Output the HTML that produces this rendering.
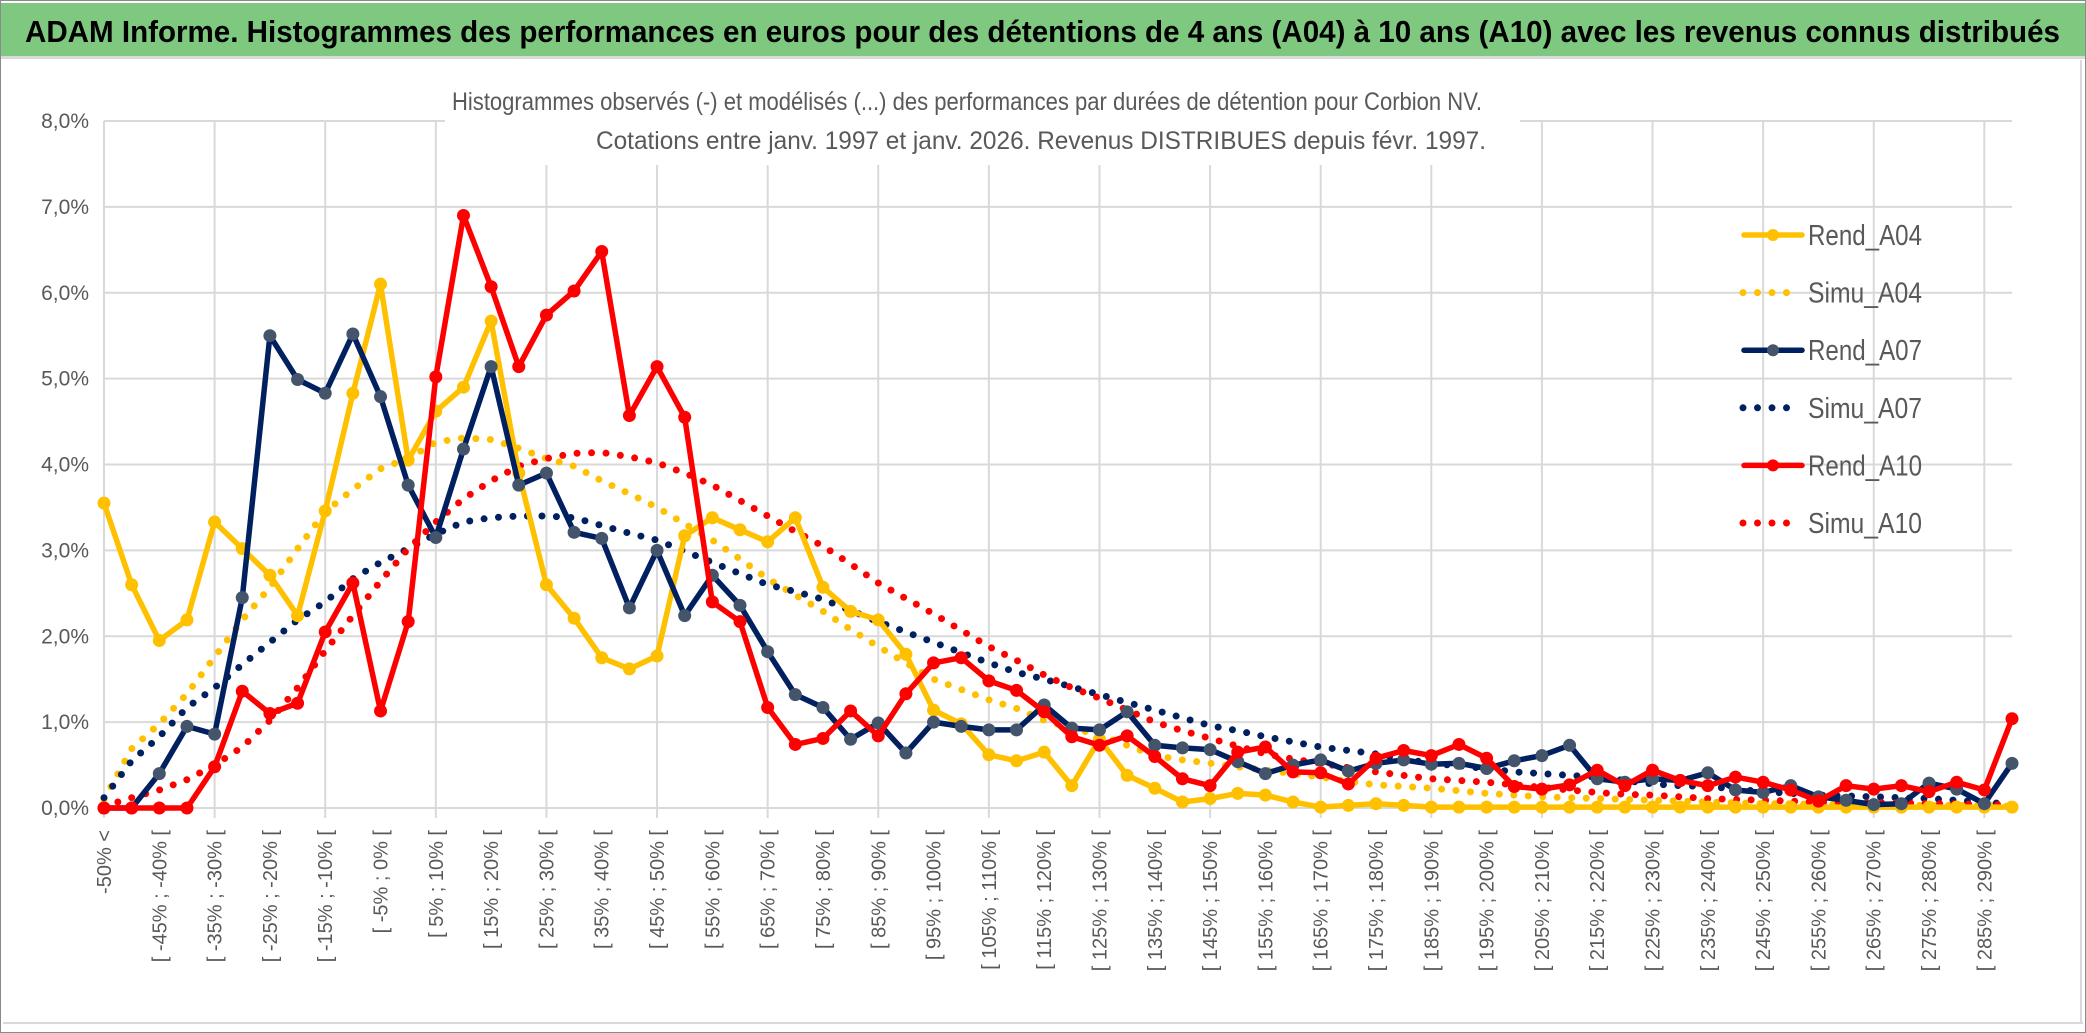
<!DOCTYPE html>
<html><head><meta charset="utf-8">
<style>
html,body{margin:0;padding:0;background:#fff;}
svg{display:block;font-family:"Liberation Sans Narrow","Liberation Sans",sans-serif;}
</style></head>
<body>
<svg id="chart" width="2086" height="1033" viewBox="0 0 2086 1033" xmlns="http://www.w3.org/2000/svg">
  <rect x="0.5" y="0.5" width="2085" height="1032" fill="#fff" stroke="#8a8a8a"/>
  <rect x="1" y="3" width="2084" height="53" fill="#7EC87F"/>
  <rect x="1" y="56" width="2084" height="3" fill="#d9d9d9"/>
  <text x="25" y="42" font-size="31" font-weight="bold" fill="#000" textLength="2035" lengthAdjust="spacingAndGlyphs">ADAM Informe. Histogrammes des performances en euros pour des détentions de 4 ans (A04) à 10 ans (A10) avec les revenus connus distribués</text>
  <rect x="3" y="1022" width="2080" height="2" fill="#d9d9d9"/>
  <rect x="2080" y="60" width="2" height="963" fill="#d9d9d9"/>
  <g id="grid"></g>
  <rect x="445" y="68" width="1075" height="97" fill="#fff"/>
  <text x="967" y="110" font-size="25" fill="#595959" text-anchor="middle" textLength="1030" lengthAdjust="spacingAndGlyphs">Histogrammes observés (-) et modélisés (...) des performances par durées de détention pour Corbion NV.</text>
  <text x="1041" y="149" font-size="25" fill="#595959" text-anchor="middle" textLength="890" lengthAdjust="spacingAndGlyphs">Cotations entre janv. 1997 et janv. 2026. Revenus DISTRIBUES depuis févr. 1997.</text>
  <g id="yaxis"></g>
  <g id="xaxis"></g>
  <g id="series"></g>
  <g id="legend"></g>
</svg>
<script>
const categories = ["-50% <","[ -50% ; -45% [","[ -45% ; -40% [","[ -40% ; -35% [","[ -35% ; -30% [","[ -30% ; -25% [","[ -25% ; -20% [","[ -20% ; -15% [","[ -15% ; -10% [","[ -10% ; -5% [","[ -5% ; 0% [","[ 0% ; 5% [","[ 5% ; 10% [","[ 10% ; 15% [","[ 15% ; 20% [","[ 20% ; 25% [","[ 25% ; 30% [","[ 30% ; 35% [","[ 35% ; 40% [","[ 40% ; 45% [","[ 45% ; 50% [","[ 50% ; 55% [","[ 55% ; 60% [","[ 60% ; 65% [","[ 65% ; 70% [","[ 70% ; 75% [","[ 75% ; 80% [","[ 80% ; 85% [","[ 85% ; 90% [","[ 90% ; 95% [","[ 95% ; 100% [","[ 100% ; 105% [","[ 105% ; 110% [","[ 110% ; 115% [","[ 115% ; 120% [","[ 120% ; 125% [","[ 125% ; 130% [","[ 130% ; 135% [","[ 135% ; 140% [","[ 140% ; 145% [","[ 145% ; 150% [","[ 150% ; 155% [","[ 155% ; 160% [","[ 160% ; 165% [","[ 165% ; 170% [","[ 170% ; 175% [","[ 175% ; 180% [","[ 180% ; 185% [","[ 185% ; 190% [","[ 190% ; 195% [","[ 195% ; 200% [","[ 200% ; 205% [","[ 205% ; 210% [","[ 210% ; 215% [","[ 215% ; 220% [","[ 220% ; 225% [","[ 225% ; 230% [","[ 230% ; 235% [","[ 235% ; 240% [","[ 240% ; 245% [","[ 245% ; 250% [","[ 250% ; 255% [","[ 255% ; 260% [","[ 260% ; 265% [","[ 265% ; 270% [","[ 270% ; 275% [","[ 275% ; 280% [","[ 280% ; 285% [","[ 285% ; 290% [","[ 290% ; 295% ["];
const yTicks = [0,1,2,3,4,5,6,7,8];
const yTickLabels = ["0,0%","1,0%","2,0%","3,0%","4,0%","5,0%","6,0%","7,0%","8,0%"];
const rendA04 = [3.55,2.60,1.95,2.19,3.33,3.02,2.71,2.24,3.46,4.83,6.10,4.05,4.62,4.90,5.67,3.90,2.60,2.21,1.75,1.62,1.77,3.17,3.38,3.24,3.10,3.38,2.57,2.29,2.19,1.79,1.14,0.98,0.62,0.55,0.65,0.26,0.80,0.38,0.23,0.07,0.11,0.17,0.15,0.07,0.01,0.03,0.05,0.03,0.01,0.01,0.01,0.01,0.01,0.01,0.01,0.01,0.01,0.01,0.01,0.01,0.01,0.01,0.01,0.01,0.01,0.01,0.01,0.01,0.01,0.01];
const simuA04 = [0.10,0.69,0.98,1.33,1.76,2.19,2.57,3.02,3.45,3.71,3.95,4.07,4.26,4.31,4.29,4.19,4.07,3.98,3.81,3.66,3.50,3.31,3.12,2.90,2.67,2.48,2.29,2.08,1.88,1.69,1.50,1.38,1.26,1.16,1.02,0.93,0.85,0.73,0.61,0.56,0.52,0.48,0.44,0.40,0.36,0.31,0.27,0.25,0.23,0.20,0.17,0.15,0.13,0.12,0.11,0.10,0.09,0.08,0.07,0.06,0.05,0.05,0.04,0.04,0.04,0.03,0.03,0.03,0.03,0.02];
const rendA07 = [0,0,0.40,0.95,0.86,2.45,5.50,4.99,4.83,5.52,4.79,3.76,3.15,4.18,5.14,3.76,3.90,3.21,3.14,2.33,3.00,2.24,2.71,2.36,1.82,1.32,1.17,0.80,0.99,0.64,1.00,0.95,0.91,0.91,1.20,0.93,0.91,1.12,0.73,0.70,0.68,0.54,0.40,0.50,0.56,0.43,0.52,0.56,0.51,0.52,0.46,0.55,0.61,0.73,0.34,0.30,0.34,0.32,0.41,0.21,0.18,0.26,0.13,0.09,0.04,0.05,0.29,0.22,0.05,0.52];
const simuA07 = [0.12,0.55,0.83,1.17,1.40,1.67,1.93,2.19,2.40,2.67,2.86,3.02,3.19,3.33,3.38,3.40,3.40,3.38,3.29,3.20,3.12,2.99,2.86,2.73,2.60,2.52,2.43,2.30,2.17,2.05,1.93,1.81,1.69,1.58,1.50,1.41,1.32,1.23,1.14,1.05,0.96,0.90,0.83,0.77,0.71,0.67,0.63,0.57,0.52,0.49,0.46,0.42,0.40,0.38,0.36,0.32,0.28,0.26,0.25,0.22,0.19,0.17,0.15,0.14,0.13,0.12,0.11,0.09,0.07,0.04];
const rendA10 = [0,0,0,0,0.48,1.36,1.10,1.22,2.05,2.62,1.13,2.17,5.02,6.90,6.07,5.14,5.74,6.02,6.48,4.57,5.14,4.55,2.40,2.17,1.17,0.74,0.81,1.13,0.84,1.33,1.69,1.75,1.48,1.37,1.12,0.83,0.73,0.84,0.60,0.34,0.26,0.65,0.71,0.42,0.41,0.28,0.58,0.67,0.61,0.74,0.58,0.25,0.22,0.27,0.44,0.26,0.44,0.32,0.26,0.36,0.30,0.21,0.08,0.26,0.22,0.26,0.19,0.30,0.21,1.04];
const simuA10 = [0.02,0.12,0.21,0.33,0.50,0.71,1.02,1.40,1.83,2.24,2.64,3.02,3.33,3.60,3.81,3.98,4.07,4.13,4.14,4.09,4.02,3.90,3.76,3.58,3.40,3.22,3.05,2.84,2.62,2.44,2.26,2.07,1.88,1.72,1.55,1.40,1.28,1.14,1.00,0.90,0.81,0.72,0.63,0.57,0.52,0.47,0.42,0.38,0.34,0.32,0.30,0.27,0.24,0.21,0.18,0.16,0.15,0.13,0.11,0.10,0.09,0.08,0.07,0.07,0.06,0.06,0.05,0.05,0.04,0.04];
const seriesNames = ["Rend_A04","Simu_A04","Rend_A07","Simu_A07","Rend_A10","Simu_A10"];

const NS = "http://www.w3.org/2000/svg";
const X0 = 104, X1 = 2012, Y0 = 808, YTOP = 121, YMAX = 8;
function xPos(i){ return X0 + i * (X1 - X0) / (categories.length - 1); }
function yPos(v){ return Y0 - v * (Y0 - YTOP) / YMAX; }
function mk(tag, attrs, parent){ const e = document.createElementNS(NS, tag); for (const k in attrs) e.setAttribute(k, attrs[k]); parent.appendChild(e); return e; }

const grid = document.getElementById('grid');
yTicks.forEach(function(t){
  const l = mk('line', {x1: X0, x2: X1, y1: yPos(t), y2: yPos(t), stroke: '#d9d9d9', 'stroke-width': 2}, grid);
  
  
});
categories.forEach(function(c, i){
  if (i % 4 === 0) {
    const l = mk('line', {x1: xPos(i), x2: xPos(i), y1: YTOP, y2: Y0 + 10, stroke: '#d9d9d9', 'stroke-width': 2}, grid);
    
    
  }
});

const yaxis = document.getElementById('yaxis');
yTicks.forEach(function(t, k){
  const tx = mk('text', {x: 89, y: yPos(t) + 7, 'font-size': 21, fill: '#595959', 'text-anchor': 'end'}, yaxis);
  tx.textContent = yTickLabels[k];
  
  
});

const xaxis = document.getElementById('xaxis');
categories.forEach(function(c, i){
  if (i % 2 !== 0) return;
  const x = xPos(i) + 7, y = 830;
  const tx = mk('text', {x: x, y: y, 'font-size': 20, fill: '#595959', 'text-anchor': 'end', transform: 'rotate(-90 ' + x + ' ' + y + ')', style: 'font-family:"Liberation Sans",sans-serif'}, xaxis);
  tx.textContent = c;
  
  
});

const seriesG = document.getElementById('series');
function pts(arr){ return arr.map(function(v, i){ return xPos(i).toFixed(1) + ',' + yPos(v).toFixed(1); }).join(' '); }
function dotted(arr, color, name){
  const p = mk('polyline', {points: pts(arr), fill: 'none', stroke: color, 'stroke-width': 7, 'stroke-linecap': 'round', 'stroke-dasharray': '0 14.5'}, seriesG);
  
  
}
function solid(arr, color, mcolor, name){
  const p = mk('polyline', {points: pts(arr), fill: 'none', stroke: color, 'stroke-width': 5.5, 'stroke-linejoin': 'round'}, seriesG);
  
  
  arr.forEach(function(v, i){
    const c = mk('circle', {cx: xPos(i), cy: yPos(v), r: 6.5, fill: mcolor}, seriesG);
    
    
  });
}
dotted(simuA04, '#FFC000', 'simu-a04-line');
dotted(simuA07, '#002060', 'simu-a07-line');
dotted(simuA10, '#FF0000', 'simu-a10-line');
solid(rendA04, '#FFC000', '#FFC000', 'rend-a04');
solid(rendA07, '#002060', '#44546A', 'rend-a07');
solid(rendA10, '#FF0000', '#FF0000', 'rend-a10');

const legend = document.getElementById('legend');
const legendColors = ['#FFC000','#FFC000','#002060','#002060','#FF0000','#FF0000'];
const legendMarker = ['#FFC000',null,'#44546A',null,'#FF0000',null];
seriesNames.forEach(function(n, k){
  const y = 235 + k * 57.6;
  const g = mk('g', {}, legend);
  
  
  if (legendMarker[k]) {
    mk('line', {x1: 1744, x2: 1802, y1: y, y2: y, stroke: legendColors[k], 'stroke-width': 5.5, 'stroke-linecap': 'round'}, g);
    mk('circle', {cx: 1773, cy: y, r: 6, fill: legendMarker[k]}, g);
  } else {
    mk('line', {x1: 1743, x2: 1790, y1: y, y2: y, stroke: legendColors[k], 'stroke-width': 7, 'stroke-linecap': 'round', 'stroke-dasharray': '0 14.5'}, g);
  }
  const t = mk('text', {x: 1808, y: y + 10, 'font-size': 29, fill: '#595959', textLength: 114, lengthAdjust: 'spacingAndGlyphs'}, g);
  t.textContent = n;
});
</script>
</body></html>
